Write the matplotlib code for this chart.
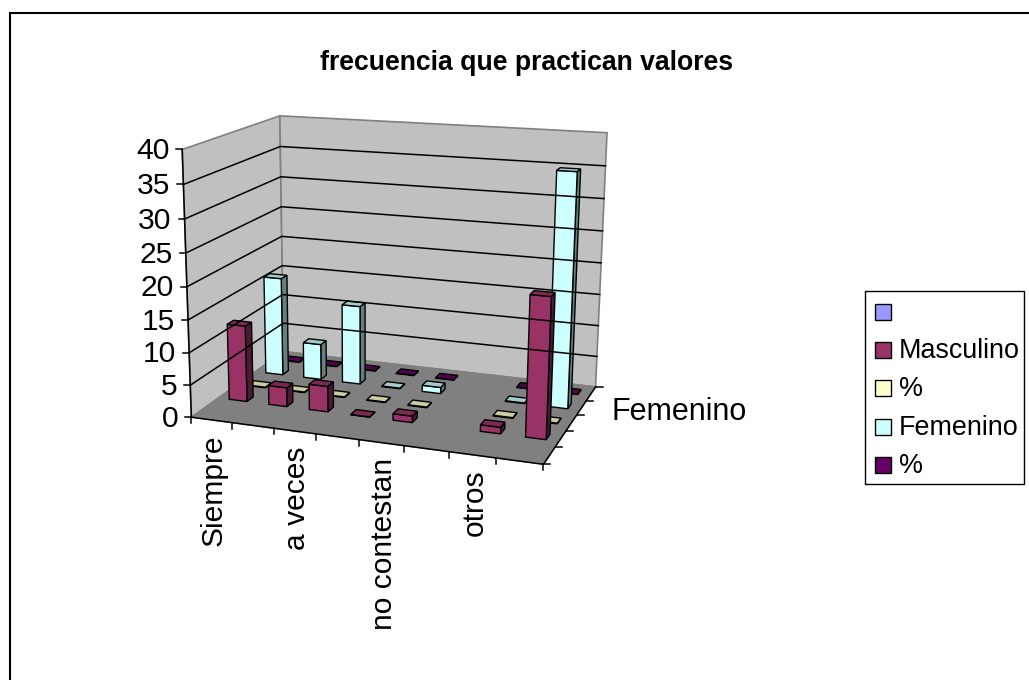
import numpy as np
import matplotlib
matplotlib.use('Agg')
import matplotlib.pyplot as plt
from matplotlib.patches import Polygon, Rectangle

plt.rcParams['font.family'] = ['Liberation Sans', 'DejaVu Sans']

title = 'frecuencia que practican valores'
categories = ['Siempre', '', 'a veces', '', 'no contestan', '', 'otros', '']
series_names = ['', 'Masculino', '%', 'Femenino', '%']
series_colors = ['#9999FF', '#993366', '#FFFFCC', '#CCFFFF', '#660066']
y_ticks = [0, 5, 10, 15, 20, 25, 30, 35, 40]

# None = no bar in that cell
masculino = [12, 3, 4, 0.05, 1, None, 1, 21]
pct_m = [0.1, 0.1, 0.1, 0.1, 0.1, None, 0.1, 0.1]
femenino = [16, 5.8, 12.7, 0.1, 1, None, 0.1, 36]
pct_f = [0.1, 0.1, 0.1, 0.1, 0.1, None, 0.1, 0.1]
blank = [None] * 8
values = [blank, masculino, pct_m, femenino, pct_f]

W, H = 1029, 680
N_CAT, N_SER, Z_MAX = 8, 5, 40

# box corners (cat, series, value) -> where they sit on the page, fitted to a perspective camera
box_world = [(0, 0, 0), (0, 0, 40), (0, 5, 0), (0, 5, 40), (8, 5, 0), (8, 5, 40), (8, 0, 0)]
box_page = [(192, 417), (182, 149), (283, 352), (280, 116), (596, 386), (607, 133), (543, 465)]


def fit_camera(world, page):
    rows = []
    rhs = []
    for (x, y, z), (u, v) in zip(world, page):
        rows.append([x, y, z, 1, 0, 0, 0, 0, -u * x, -u * y, -u * z])
        rows.append([0, 0, 0, 0, x, y, z, 1, -v * x, -v * y, -v * z])
        rhs += [u, v]
    p = np.linalg.lstsq(np.array(rows, float), np.array(rhs, float), rcond=None)[0]
    return np.append(p, 1).reshape(3, 4)


P = fit_camera(box_world, box_page)


def pj(x, y, z):
    q = P @ np.array([x, y, z, 1.0])
    return q[0] / q[2], q[1] / q[2]


def shade(color, f):
    c = np.array(matplotlib.colors.to_rgb(color))
    return tuple(c * f)


fig = plt.figure(figsize=(W / 100, H / 100), dpi=100)
ax = fig.add_axes([0, 0, 1, 1])
ax.set_xlim(0, W)
ax.set_ylim(H, 0)
ax.axis('off')

# chart frame, runs off the right and bottom of the picture
ax.add_patch(Rectangle((10, 13), 1100, 800, fc='white', ec='black', lw=1.5))

ax.text(527, 63, title, ha='center', va='center', fontsize=19.2, fontweight='bold')

# walls and floor
ax.add_patch(Polygon([pj(0, 0, 0), pj(0, 5, 0), pj(0, 5, 40), pj(0, 0, 40)], fc='#C0C0C0', ec='#808080', lw=1.2))
ax.add_patch(Polygon([pj(0, 5, 0), pj(8, 5, 0), pj(8, 5, 40), pj(0, 5, 40)], fc='#C0C0C0', ec='#808080', lw=1.2))
ax.add_patch(Polygon([pj(0, 0, 0), pj(8, 0, 0), pj(8, 5, 0), pj(0, 5, 0)], fc='#808080', ec='#808080', lw=1))

# gridlines
for t in y_ticks[1:-1]:
    pts = [pj(0, 0, t), pj(0, 5, t), pj(8, 5, t)]
    ax.plot(*zip(*pts), color='black', lw=1.1, solid_joinstyle='miter')

# axis lines and ticks
ax.plot(*zip(pj(0, 0, 0), pj(0, 0, 40)), color='black', lw=1.1)
ax.plot(*zip(pj(0, 0, 0), pj(8, 0, 0), pj(8, 5, 0)), color='black', lw=1.1)
for t in y_ticks:
    x0, y0 = pj(0, 0, t)
    ax.plot([x0 - 6, x0], [y0, y0], color='black', lw=1.1)
    ax.text(x0 - 13, y0 + 1.5, str(t), ha='right', va='center', fontsize=21.6)
for i in range(N_CAT + 1):
    x0, y0 = pj(i, 0, 0)
    ax.plot([x0, x0], [y0, y0 + 6], color='black', lw=1.1)
for j in range(N_SER + 1):
    x0, y0 = pj(8, j, 0)
    ax.plot([x0, x0 + 7], [y0, y0], color='black', lw=1.1)

for i, lab in enumerate(categories):
    if lab:
        x0, y0 = pj(i + 0.5, 0, 0)
        ax.text(x0 + 2, y0 + 15, lab, rotation=90, ha='center', va='top', fontsize=21.6)

ax.text(612, 412.5, 'Femenino', ha='left', va='center', fontsize=22)

# bars, back to front
BW = 0.45
BD = 0.33
for j in range(N_SER - 1, -1, -1):
    col = series_colors[j]
    for i in range(N_CAT):
        v = values[j][i]
        if v is None:
            continue
        x0, x1 = i + 0.5 - BW / 2, i + 0.5 + BW / 2
        y0, y1 = j + 0.5 - BD / 2, j + 0.5 + BD / 2
        top = [pj(x0, y0, v), pj(x1, y0, v), pj(x1, y1, v), pj(x0, y1, v)]
        side = [pj(x1, y0, 0), pj(x1, y1, 0), pj(x1, y1, v), pj(x1, y0, v)]
        front = [pj(x0, y0, 0), pj(x1, y0, 0), pj(x1, y0, v), pj(x0, y0, v)]
        ax.add_patch(Polygon(side, fc=shade(col, 0.5), ec='black', lw=1))
        ax.add_patch(Polygon(front, fc=col, ec='black', lw=1))
        ax.add_patch(Polygon(top, fc=shade(col, 0.8), ec='black', lw=1))

# legend
ax.add_patch(Rectangle((865, 291), 159, 193, fc='white', ec='black', lw=1))
for j, name in enumerate(series_names):
    yc = 312 + j * 38.2
    ax.add_patch(Rectangle((875, yc - 8), 16, 16, fc=series_colors[j], ec='black', lw=1))
    ax.text(899, yc + 1, name, ha='left', va='center', fontsize=19.4)

fig.savefig('out.png', dpi=100)
